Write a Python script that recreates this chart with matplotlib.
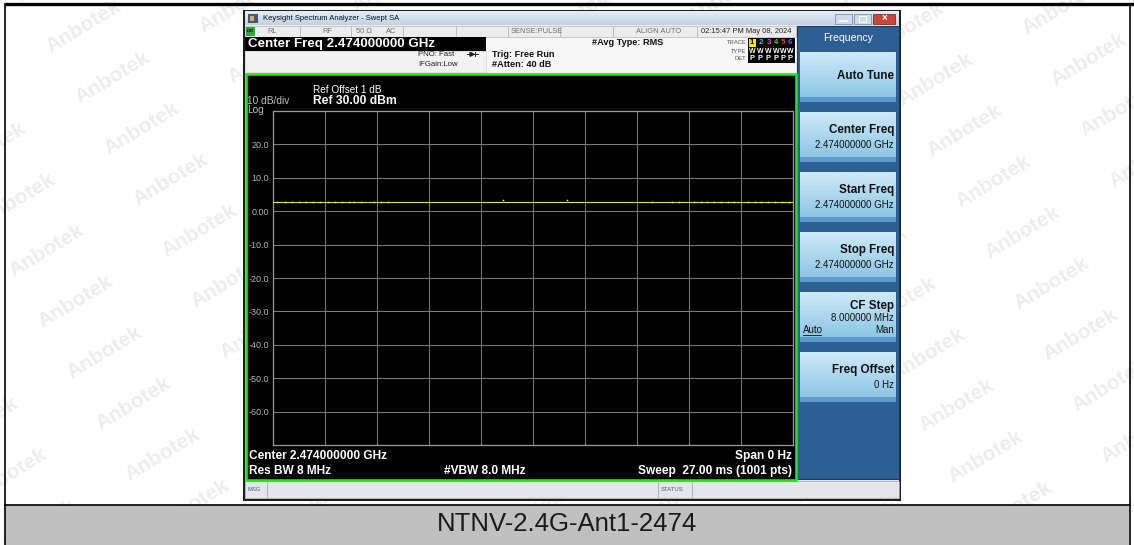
import matplotlib
matplotlib.use('Agg')
import matplotlib.pyplot as plt
import matplotlib.patches as patches
import numpy as np

plt.rcParams['font.family'] = ['Liberation Sans', 'DejaVu Sans']

W, H = 1134, 545

# ---- chart data ----
ref_level = 30.0                 # dBm at top of graticule
bottom_level = -70.0             # 10 dB/div, 10 divisions
y_tick_values = [20, 10, 0, -10, -20, -30, -40, -50, -60]
y_tick_labels = ['20.0', '10.0', '0.00', '-10.0', '-20.0', '-30.0', '-40.0', '-50.0', '-60.0']
sweep_ms = 27.0
trace_time = [0.0, 27.0]         # ms
trace_level = [2.9, 2.9]         # dBm
dot_time = [0.23, 0.60, 0.98, 1.35, 1.71, 2.08, 2.44, 2.83, 3.20, 3.57, 3.95, 4.20, 4.57,
            5.24, 5.61, 5.97, 8.08, 11.92, 15.26, 19.70, 20.72, 21.08, 21.84, 22.20,
            22.54, 22.90, 23.25, 23.60, 23.94, 24.30, 24.66, 25.03, 25.36, 25.70,
            26.07, 26.43, 26.80]
dot_level = [2.9] * 17 + [3.3, 3.3] + [2.9] * 18

softkey_titles = ['Auto Tune', 'Center Freq', 'Start Freq', 'Stop Freq', 'CF Step', 'Freq Offset']
softkey_values = ['', '2.474000000 GHz', '2.474000000 GHz', '2.474000000 GHz', '8.000000 MHz', '0 Hz']
status_cells = ['RL', 'RF', '50 Ω', 'AC', 'SENSE:PULSE', 'ALIGN AUTO', '02:15:47 PM May 08, 2024']
trace_digits = ['1', '2', '3', '4', '5', '6']
trace_colors = ['#000000', '#00d8e8', '#ff3cff', '#30e030', '#ff3030', '#6a5cff']
caption = 'NTNV-2.4G-Ant1-2474'


fig = plt.figure(figsize=(W / 100, H / 100), dpi=100)
bg = fig.add_axes([0, 0, 1, 1])
bg.set_axis_off()


def box(x0, y0, x1, y1, fc, ec='none', lw=0, z=1, **kw):
    bg.add_patch(patches.Rectangle((x0, y0), x1 - x0, y1 - y0, facecolor=fc,
                                   edgecolor=ec, linewidth=lw, zorder=z, **kw))


def grad(x0, y0, x1, y1, top, bottom, z=1):
    c0 = np.array(matplotlib.colors.to_rgb(top))
    c1 = np.array(matplotlib.colors.to_rgb(bottom))
    t = np.linspace(0, 1, 32)[:, None]
    img = (c0 * (1 - t) + c1 * t)[:, None, :]
    bg.imshow(img, extent=(x0, x1, y1, y0), origin='upper', aspect='auto',
              interpolation='bilinear', zorder=z)


def txt(x, y, s, size, color='#000000', weight='normal', ha='left', z=5, **kw):
    bg.text(x, y, s, fontsize=size, color=color, fontweight=weight, ha=ha,
            va='center', zorder=z, **kw)


# ---- page: watermarks, borders, caption band ----
clip = patches.Rectangle((5, 5), 1124, 499, transform=bg.transData)
for i in range(-3, 9):
    for j in range(-2, 12):
        ax_ = 50 + 153 * i + 29 * j
        ay_ = 53 - 20 * i + 51 * j
        if -120 < ax_ < 1140 and 0 < ay_ < 560:
            t = bg.text(ax_, ay_, 'Anbotek', fontsize=15, fontweight='bold',
                        color='#ededed', rotation=31, rotation_mode='anchor',
                        ha='left', va='baseline', zorder=0)
            t.set_clip_path(clip)

box(5, 505, 1129, 545, '#c0c0c0', z=0.5)
bg.plot([5, 1134], [3.5, 3.5], color='black', lw=2.4, zorder=0.6, solid_capstyle='butt')
bg.plot([5, 5], [3.5, 545], color='black', lw=1.2, zorder=0.6)
bg.plot([1129.5, 1129.5], [3.5, 545], color='black', lw=1.2, zorder=0.6)
bg.plot([5, 1129.5], [504.5, 504.5], color='black', lw=1.2, zorder=0.6)
txt(567, 524, caption, 18.5, color='#1a1a1a', ha='center')

# ---- analyzer window frame ----
box(243, 10, 901, 501, '#1e1e1e', z=1)
box(245, 12, 899, 499, '#eeeeee', z=1.1)
grad(245, 12, 899, 25.5, '#e6eef8', '#c2d2e6', z=1.2)
box(248, 14, 258, 23, '#4a5a6e', z=1.3)
box(250, 16, 254, 21, '#c8b070', z=1.4)
txt(263, 18.5, 'Keysight Spectrum Analyzer - Swept SA', 5.5, '#111111')
box(835, 13.5, 852, 23.5, '#cddbeb', ec='#7d93b0', lw=0.6, z=1.4)
box(854, 13.5, 871, 23.5, '#cddbeb', ec='#7d93b0', lw=0.6, z=1.4)
box(873, 13.5, 895, 23.5, '#c8493c', ec='#8a2c22', lw=0.6, z=1.4)
bg.plot([840, 847], [20.5, 20.5], color='white', lw=1.2, zorder=1.5)
box(859, 16, 866, 21.5, 'none', ec='white', lw=0.7, z=1.5)
txt(884, 18.3, '×', 7, 'white', weight='bold', ha='center')

# status row
box(245, 26, 796, 36.5, '#ececee', ec='#b8b8bc', lw=0.5, z=1.3)
box(245.5, 27, 255, 35.5, '#2fa83a', z=1.4)
txt(246.5, 31.2, 'LXI', 3.2, '#000000', weight='bold', style='italic')
for sx in [300, 351, 402.5, 456, 508, 560, 613, 697]:
    bg.plot([sx, sx], [26.5, 36], color='#b4b4b8', lw=0.6, zorder=1.4)
cell_x = [267, 322, 356, 386, 511, 636, 701]
for cx, s in zip(cell_x, status_cells):
    txt(cx, 31.3, s, 5.4, '#222222' if s.startswith('02') else '#707070')

# center freq box + info area
box(245, 36.5, 486, 50.5, '#000000', z=1.3)
txt(248, 43.6, 'Center Freq 2.474000000 GHz', 9.6, 'white', weight='bold')
box(245, 50.5, 486, 72, '#f2f2f2', ec='#d0d0d0', lw=0.4, z=1.3)
box(486, 36.5, 796, 72, '#f7f7f7', z=1.25)
txt(418, 54.3, 'PNO: Fast', 5.6, '#222222')
txt(418, 64.6, 'IFGain:Low', 5.6, '#222222')
bg.plot([467, 478], [54.3, 54.3], color='#222222', lw=0.7, zorder=5)
bg.add_patch(patches.Polygon([[470, 52.3], [470, 56.3], [474, 54.3]], closed=True,
                             color='#222222', zorder=5))
bg.plot([474.5, 474.5], [52.3, 56.3], color='#222222', lw=0.7, zorder=5)
txt(492, 54.5, 'Trig: Free Run', 6.6, '#111111', weight='bold')
txt(492, 64.6, '#Atten: 40 dB', 6.6, '#111111', weight='bold')
txt(592, 42.5, '#Avg Type: RMS', 6.6, '#111111', weight='bold')

# trace / type / det block
box(748, 37.5, 795, 62.5, '#000000', z=1.3)
for lab, yy in zip(['TRACE', 'TYPE', 'DET'], [42.5, 51.5, 59]):
    txt(746.5, yy, lab, 4.2, '#555555', ha='right')
digit_x = [752, 760.5, 768.5, 776, 783, 790]
box(749, 38.5, 755.5, 46.5, '#f0f000', z=1.4)
for dx, d, c in zip(digit_x, trace_digits, trace_colors):
    txt(dx, 42.5, d, 5.6, c, weight='bold', ha='center')
    txt(dx, 51.5, 'W', 5.0, 'white', weight='bold', ha='center')
    txt(dx, 59, 'P', 5.4, 'white', weight='bold', ha='center')

# ---- measurement area ----
box(245.5, 73.5, 795.5, 480, '#000000', ec='#1ee61e', lw=1.9, z=1.5)
txt(313, 90, 'Ref Offset 1 dB', 7.2, 'white')
txt(313, 101, 'Ref 30.00 dBm', 8.7, 'white', weight='bold')
txt(247, 101, '10 dB/div', 7.3, '#bdbdbd')
txt(247, 110, 'Log', 7.3, '#bdbdbd')

pa = fig.add_axes([273 / W, 1 - 445 / H, 520 / W, 334 / H])
pa.set_facecolor('black')
pa.set_xlim(0, sweep_ms)
pa.set_ylim(bottom_level, ref_level)
pa.set_xticks(np.linspace(0, sweep_ms, 11))
pa.set_xticklabels([])
pa.set_yticks([ref_level] + y_tick_values + [bottom_level])
pa.set_yticklabels([''] + y_tick_labels + [''])
pa.tick_params(length=0, labelsize=6.5, labelcolor='#b4b4b4', pad=3)
pa.grid(True, color='#7a7a7a', lw=0.75)
pa.set_axisbelow(True)
for sp in pa.spines.values():
    sp.set_color('#9a9a9a')
    sp.set_linewidth(0.9)
pa.plot(trace_time, trace_level, color='#e2e25a', lw=0.8, zorder=3)
pa.plot(dot_time, dot_level, ls='none', marker='s', ms=1.1, color='#f2f26a',
        mec='none', zorder=4)

txt(249, 456, 'Center 2.474000000 GHz', 8.6, 'white', weight='bold')
txt(249, 471, 'Res BW 8 MHz', 8.6, 'white', weight='bold')
txt(444, 471, '#VBW 8.0 MHz', 8.6, 'white', weight='bold')
txt(792, 456, 'Span 0 Hz', 8.6, 'white', weight='bold', ha='right')
txt(792, 471, 'Sweep  27.00 ms (1001 pts)', 8.6, 'white', weight='bold', ha='right')

# message bar
box(245, 481, 899, 498, '#e6e5ea', ec='#9a9a9e', lw=0.5, z=1.3)
for sx in [267, 658, 692]:
    bg.plot([sx, sx], [482, 497], color='#a8a8ac', lw=0.6, zorder=1.4)
txt(248, 489.5, 'MSG', 4.2, '#555555')
txt(661, 489.5, 'STATUS', 4.2, '#555555')

# ---- softkey panel ----
box(797, 26, 899, 479, '#2e5f94', ec='#1a3a60', lw=0.8, z=1.3)
txt(848, 38, 'Frequency', 7.6, 'white', ha='center')
key_tops = [52, 112, 172, 232, 292, 352]
for top, title, value in zip(key_tops, softkey_titles, softkey_values):
    grad(800, top, 896, top + 50, '#cfeaf8', '#86c2e2', z=1.4)
    box(800, top + 45, 896, top + 50, '#5c9cc8', z=1.45)
    if title == 'Auto Tune':
        txt(894, top + 24, title, 8.4, '#111111', weight='bold', ha='right')
    elif title == 'CF Step':
        txt(894, top + 14, title, 8.4, '#111111', weight='bold', ha='right')
        txt(894, top + 26, value, 7.0, '#111111', ha='right')
        txt(803, top + 38, 'Auto', 7.0, '#111111')
        bg.plot([803, 821], [top + 42.5, top + 42.5], color='#111111', lw=0.6, zorder=5)
        txt(894, top + 38, 'Man', 7.0, '#111111', ha='right')
    else:
        txt(894, top + 18, title, 8.4, '#111111', weight='bold', ha='right')
        txt(894, top + 33, value, 7.0, '#111111', ha='right')

bg.set_xlim(0, W)
bg.set_ylim(H, 0)

fig.savefig('out.png', dpi=100)
